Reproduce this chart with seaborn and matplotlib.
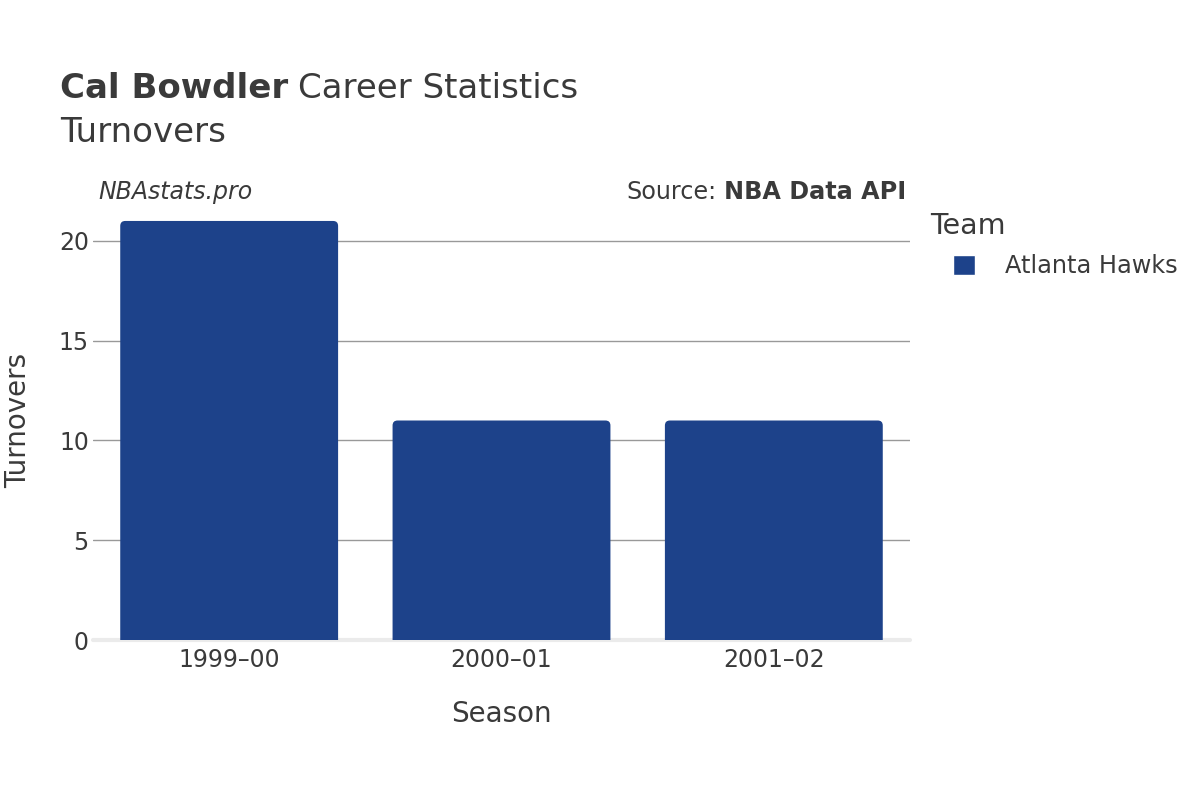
import matplotlib
matplotlib.use("Agg")
import matplotlib.pyplot as plt
import seaborn as sns
import pandas as pd
from matplotlib.patches import FancyBboxPatch

seasons = ["1999–00", "2000–01", "2001–02"]
turnovers = [21, 11, 11]
teams = ["Atlanta Hawks", "Atlanta Hawks", "Atlanta Hawks"]
team_colors = {"Atlanta Hawks": "#1d428a"}
y_ticks = [0, 5, 10, 15, 20]

df = pd.DataFrame({"Season": seasons, "Turnovers": turnovers, "Team": teams})

sns.set_theme(style="white")
plt.rcParams["font.family"] = ["DejaVu Sans"]
TXT = "#3a3a3a"

W, H = 1200, 800
fig = plt.figure(figsize=(12, 8), dpi=100)
ax = fig.add_axes([93 / W, 1 - 640 / H, (910 - 93) / W, (640 - 201) / H])

sns.barplot(data=df, x="Season", y="Turnovers", hue="Team", palette=team_colors,
            width=0.8, ax=ax, dodge=False, saturation=1, legend=True)

ax.set_ylim(0, 22)
ax.set_xlim(-0.5, 2.5)

# rounded tops
px_x = (910 - 93) / 3.0
px_y = (640 - 201) / 22.0
r_px = 5
rx = r_px / px_x
ry = r_px / px_y
for p in list(ax.patches):
    x, y, w, h = p.get_x(), p.get_y(), p.get_width(), p.get_height()
    if h <= 0:
        continue
    fc = p.get_facecolor()
    p.set_visible(False)
    fb = FancyBboxPatch((x, y - 1), w, h + 1,
                        boxstyle=f"round,pad=0,rounding_size={rx}",
                        mutation_aspect=ry / rx, facecolor=fc, edgecolor="none",
                        zorder=3)
    ax.add_patch(fb)

ax.set_yticks(y_ticks)
ax.yaxis.grid(True, color="#999999", linewidth=1)
ax.set_axisbelow(True)
for s in ax.spines.values():
    s.set_visible(False)
ax.axhline(0, color="#ebebeb", linewidth=3, zorder=2, clip_on=False)
ax.tick_params(axis="both", length=0, labelsize=17, labelcolor=TXT)
ax.tick_params(axis="y", pad=3)
ax.tick_params(axis="x", pad=6)
ax.set_xlabel("Season", fontsize=20, color=TXT, labelpad=20)
ax.set_ylabel("Turnovers", fontsize=20, color=TXT, va="center")
ax.yaxis.set_label_coords((18 - 93) / (910 - 93), 0.5)

# legend
sns.move_legend(ax, "upper left", bbox_to_anchor=(953 / W, 1 - 254 / H),
                bbox_transform=fig.transFigure, frameon=False, title=None,
                fontsize=17.3, handlelength=0.92, handleheight=0.92,
                handletextpad=1.25, borderpad=0, borderaxespad=0)
leg = ax.get_legend()
for t in leg.get_texts():
    t.set_color(TXT)
fig.text(930 / W, 1 - 226 / H, "Team", fontsize=20.5, color=TXT,
         va="center", ha="left")

# titles
fig.text(60 / W, 1 - 88 / H, "Cal Bowdler", fontsize=24.5, fontweight="bold",
         color=TXT, va="center", ha="left")
fig.text(298 / W, 1 - 88 / H, "Career Statistics", fontsize=24.5,
         color=TXT, va="center", ha="left")
fig.text(60 / W, 1 - 132 / H, "Turnovers", fontsize=24.5,
         color=TXT, va="center", ha="left")
fig.text(98 / W, 1 - 192 / H, "NBAstats.pro", fontsize=17, style="italic",
         color=TXT, va="center", ha="left")
fig.text(906 / W, 1 - 192 / H, "NBA Data API", fontsize=17.2, fontweight="bold",
         color=TXT, va="center", ha="right")
fig.text(716 / W, 1 - 192 / H, "Source:", fontsize=17.2,
         color=TXT, va="center", ha="right")

fig.savefig("out.png", dpi=100, facecolor="white")
